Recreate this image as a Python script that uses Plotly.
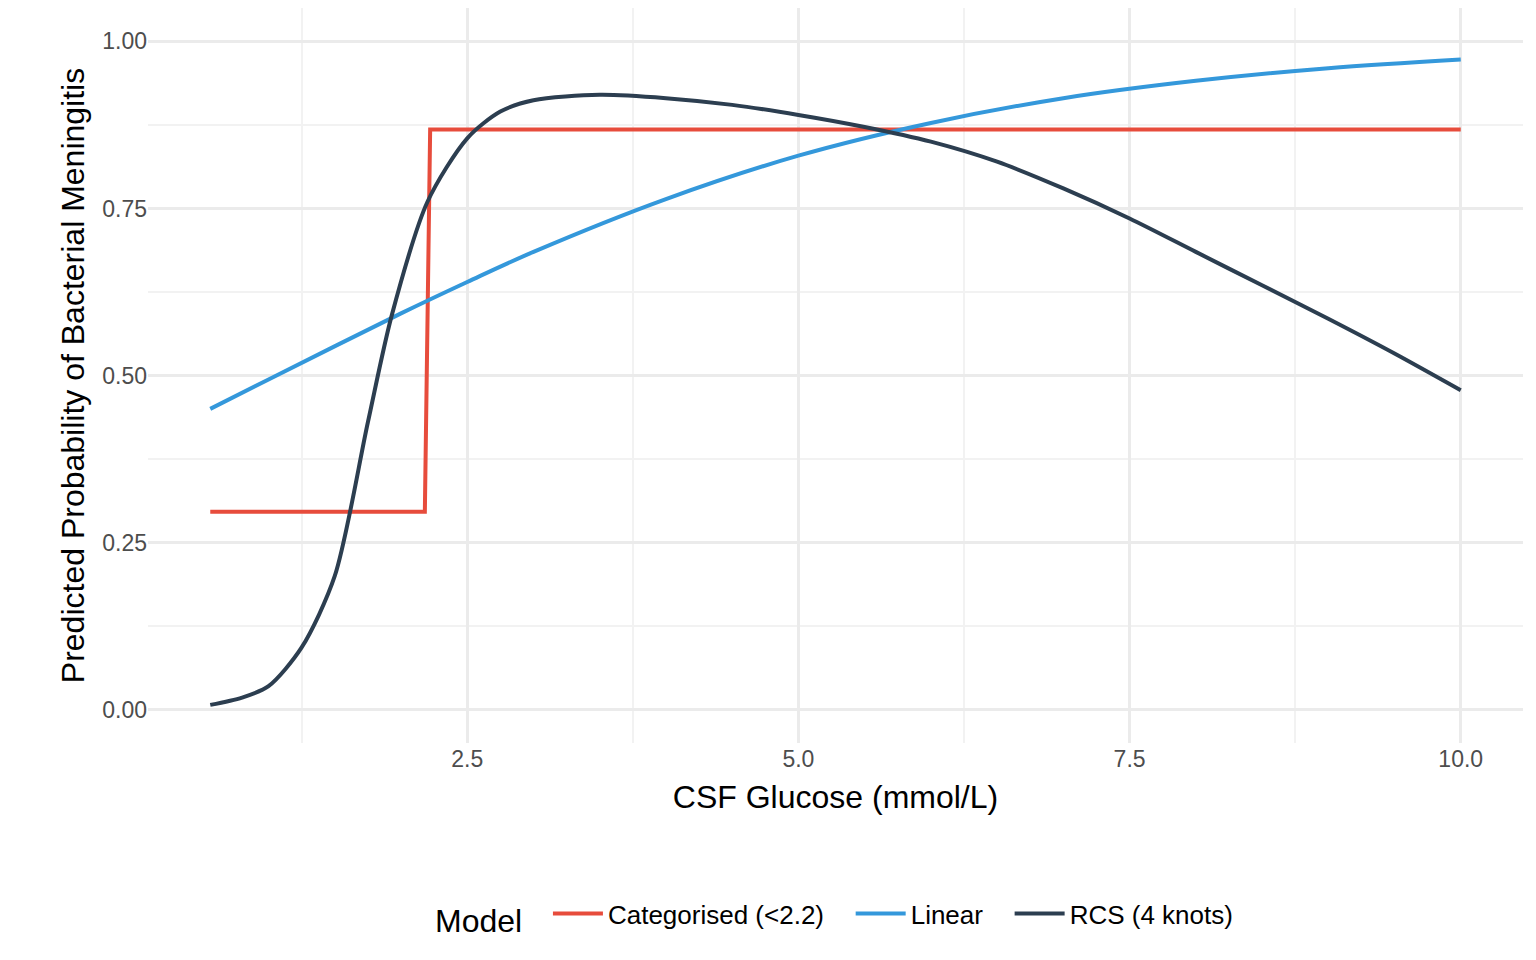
import plotly.graph_objects as go

cat_x = [0.56, 2.18, 2.22, 10.0]
cat_y = [0.296, 0.296, 0.868, 0.868]

lin_x = [0.56, 1.0, 2.0, 2.5, 3.0, 4.0, 5.0, 6.0, 7.0, 8.0, 9.0, 10.0]
lin_y = [0.45, 0.494, 0.593, 0.64, 0.685, 0.764, 0.829, 0.878, 0.915, 0.941, 0.96, 0.973]

rcs_x = [0.56, 0.8, 1.0, 1.25, 1.5, 1.75, 1.93, 2.2, 2.5, 2.75, 3.0, 3.5, 4.0, 4.5, 5.0,
         5.5, 6.0, 6.5, 7.0, 7.5, 8.0, 8.5, 9.0, 9.5, 10.0]
rcs_y = [0.007, 0.018, 0.035, 0.093, 0.2, 0.43, 0.59, 0.76, 0.855, 0.895, 0.912, 0.92,
         0.915, 0.905, 0.89, 0.872, 0.85, 0.82, 0.78, 0.735, 0.685, 0.635, 0.585, 0.533, 0.478]

fig = go.Figure()
fig.add_trace(go.Scatter(x=cat_x, y=cat_y, mode="lines", name="Categorised (<2.2)   ",
                         line=dict(color="#E74C3C", width=4)))
fig.add_trace(go.Scatter(x=lin_x, y=lin_y, mode="lines", name="Linear   ",
                         line=dict(color="#3498DB", width=4, shape="spline")))
fig.add_trace(go.Scatter(x=rcs_x, y=rcs_y, mode="lines", name="RCS (4 knots)",
                         line=dict(color="#2C3E50", width=4, shape="spline", smoothing=0.8)))

fig.update_layout(
    width=1536, height=960, plot_bgcolor="white", paper_bgcolor="white",
    font=dict(family="Liberation Sans, Arial, sans-serif", size=23, color="black"),
    margin=dict(l=140, r=21, t=0, b=225, autoexpand=False),
    legend=dict(orientation="h", x=0.5, xanchor="center", y=-0.2, yanchor="top",
                itemwidth=50,
                title=dict(text="Model  ", font=dict(size=32)), font=dict(size=26)),
    xaxis=dict(title=dict(text="CSF Glucose (mmol/L)", font=dict(size=32), standoff=14),
               range=[0.09, 10.47], tickvals=[2.5, 5.0, 7.5, 10.0], automargin=False,
               ticktext=["2.5", "5.0", "7.5", "10.0"], tickfont=dict(color="#4d4d4d", size=23),
               gridcolor="#EBEBEB", gridwidth=2.5, zeroline=False, showline=False,
               minor=dict(tickvals=[1.25, 3.75, 6.25, 8.75], showgrid=True, gridcolor="#F2F2F2", gridwidth=1.5)),
    yaxis=dict(title=dict(text="Predicted Probability of Bacterial Meningitis", font=dict(size=32), standoff=8),
               range=[-0.05, 1.05], tickvals=[0, 0.25, 0.5, 0.75, 1.0], automargin=False,
               ticktext=["0.00", "0.25", "0.50", "0.75", "1.00"], tickfont=dict(color="#4d4d4d", size=23),
               gridcolor="#EBEBEB", gridwidth=2.5, zeroline=False, showline=False,
               minor=dict(tickvals=[0.125, 0.375, 0.625, 0.875], showgrid=True, gridcolor="#F2F2F2", gridwidth=1.5)),
)
fig.write_html("out.html")
